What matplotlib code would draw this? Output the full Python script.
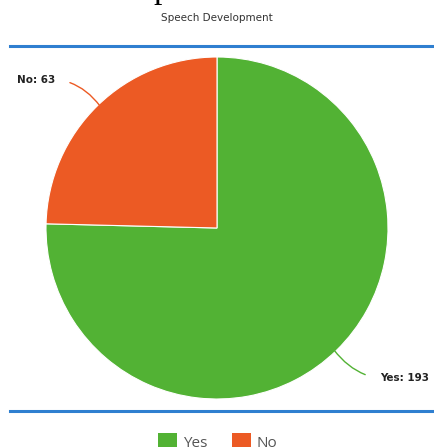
import matplotlib
matplotlib.use('Agg')
import matplotlib.pyplot as plt
from matplotlib.patches import Patch
from matplotlib.lines import Line2D

# data
labels = ['Yes', 'No']
counts = [193, 63]
colors = ['#52b234', '#ec5a24']

W, H = 435, 447
fig = plt.figure(figsize=(W / 100, H / 100), dpi=100)

# pie centre (217, 228) px, radius 171 px
cx, cy, r = 217, 228, 171
ax = fig.add_axes([(cx - r) / W, (H - cy - r) / H, 2 * r / W, 2 * r / H])
ax.pie(counts, colors=colors, startangle=90, counterclock=False, radius=1,
       wedgeprops=dict(edgecolor='white', linewidth=0.8))
ax.set_xlim(-1, 1)
ax.set_ylim(-1, 1)
ax.set_aspect('equal')
ax.axis('off')

def px(x, y):
    return ((x - cx) / r, (cy - y) / r)

# leader labels
ax.annotate('No: 63', xy=px(100, 106), xytext=px(55, 80), ha='right', va='center',
            fontsize=7.5, fontweight='bold', color='#222',
            arrowprops=dict(arrowstyle='-', color=colors[1], lw=1,
                            connectionstyle='arc3,rad=-0.3', shrinkA=9, shrinkB=0),
            annotation_clip=False)
ax.annotate('Yes: 193', xy=px(334, 350), xytext=px(380, 378), ha='left', va='center',
            fontsize=7.5, fontweight='bold', color='#222',
            arrowprops=dict(arrowstyle='-', color=colors[0], lw=1,
                            connectionstyle='arc3,rad=-0.3', shrinkA=9, shrinkB=0),
            annotation_clip=False)

# title and clipped heading fragment
fig.text(cx / W, 1 - 18 / H, 'Speech Development', ha='center', va='center',
         fontsize=7.5, color='#333')
fig.text(162 / W, 1 + 2 / H, 'p', ha='center', va='baseline', fontsize=24,
         family='Liberation Serif', color='black')

# blue rules
fig.add_artist(Line2D([10 / W, 1], [1 - 45.5 / H] * 2, color='#2f7fd0', lw=2.2))
fig.add_artist(Line2D([10 / W, 1], [1 - 411 / H] * 2, color='#2f7fd0', lw=2.2))

# legend (cut by the bottom edge, as in the reference)
handles = [Patch(facecolor=c, edgecolor='none') for c in colors]
fig.legend(handles, labels, loc='center', bbox_to_anchor=(0.5, 1 - 442 / H), ncol=2,
           frameon=False, prop=dict(family='Open Sans', size=11), labelcolor='#555',
           handlelength=1.3, handleheight=1.3, columnspacing=1.6, handletextpad=0.35)

fig.savefig('out.png', dpi=100)
